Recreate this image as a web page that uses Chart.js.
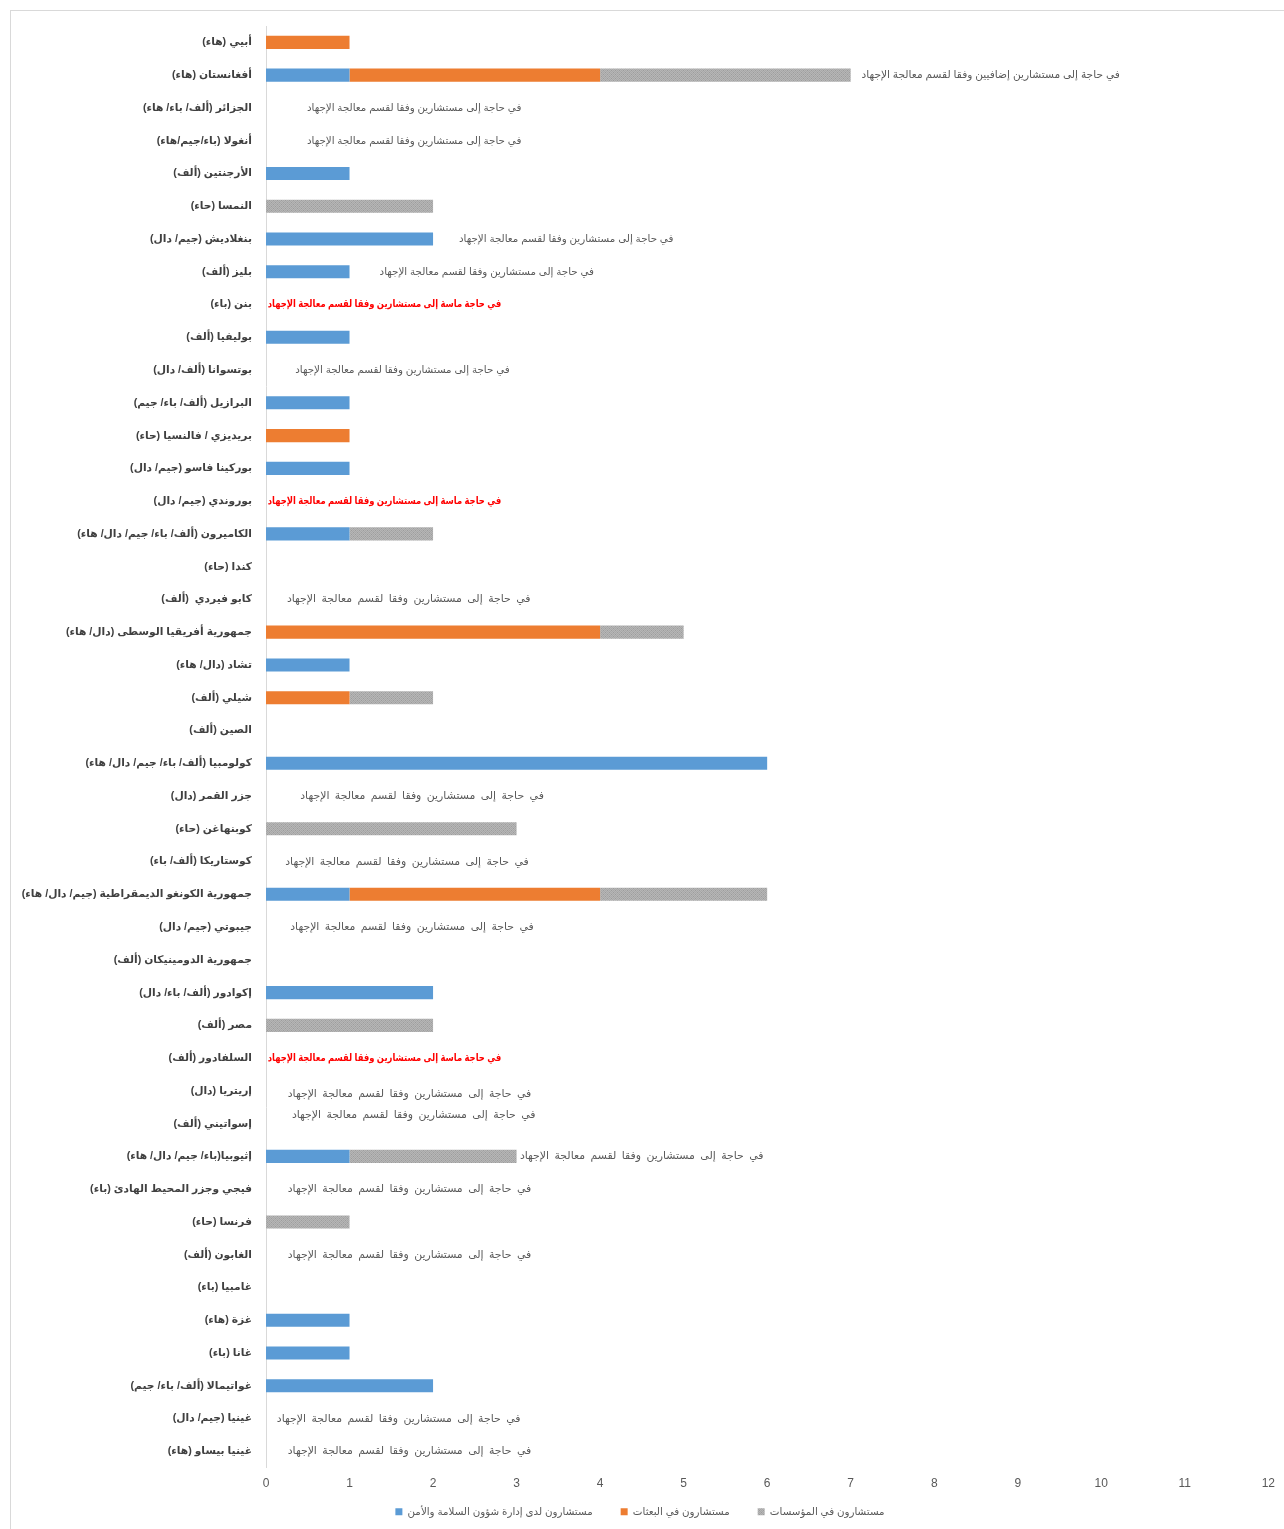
<!DOCTYPE html>
<html lang="ar">
<head>
<meta charset="utf-8">
<script src="https://cdn.jsdelivr.net/npm/chart.js@4/dist/chart.umd.min.js"></script>
<style>
  html, body { margin: 0; padding: 0; background: #fff; overflow: hidden; }
  #frame { position: absolute; left: 10px; top: 10px; width: 1300px; height: 1540px; border: 1px solid #d9d9d9; box-sizing: border-box; }
  #wrap { position: absolute; left: 0; top: 0; width: 1284px; height: 1529px; }
</style>
</head>
<body>
<div id="frame"></div>
<div id="wrap"><canvas id="c"></canvas></div>
<script>
// ---------- DATA ----------
const categories = [
  'أبيي (هاء)',
  'أفغانستان (هاء)',
  'الجزائر (ألف/ باء/ هاء)',
  'أنغولا (باء/جيم/هاء)',
  'الأرجنتين (ألف)',
  'النمسا (حاء)',
  'بنغلاديش (جيم/ دال)',
  'بليز (ألف)',
  'بنن (باء)',
  'بوليفيا (ألف)',
  'بوتسوانا (ألف/ دال)',
  'البرازيل (ألف/ باء/ جيم)',
  'بريديزي / فالنسيا (حاء)',
  'بوركينا فاسو (جيم/ دال)',
  'بوروندي (جيم/ دال)',
  'الكاميرون (ألف/ باء/ جيم/ دال/ هاء)',
  'كندا (حاء)',
  'كابو فيردي  (ألف)',
  'جمهورية أفريقيا الوسطى (دال/ هاء)',
  'تشاد (دال/ هاء)',
  'شيلي (ألف)',
  'الصين (ألف)',
  'كولومبيا (ألف/ باء/ جيم/ دال/ هاء)',
  'جزر القمر (دال)',
  'كوبنهاغن (حاء)',
  'كوستاريكا (ألف/ باء)',
  'جمهورية الكونغو الديمقراطية (جيم/ دال/ هاء)',
  'جيبوتي (جيم/ دال)',
  'جمهورية الدومينيكان (ألف)',
  'إكوادور (ألف/ باء/ دال)',
  'مصر (ألف)',
  'السلفادور (ألف)',
  'إريتريا (دال)',
  'إسواتيني (ألف)',
  'إثيوبيا(باء/ جيم/ دال/ هاء)',
  'فيجي وجزر المحيط الهادئ (باء)',
  'فرنسا (حاء)',
  'الغابون (ألف)',
  'غامبيا (باء)',
  'غزة (هاء)',
  'غانا (باء)',
  'غواتيمالا (ألف/ باء/ جيم)',
  'غينيا (جيم/ دال)',
  'غينيا بيساو (هاء)'
];

const seriesNames = [
  'مستشارون لدى إدارة شؤون السلامة والأمن',
  'مستشارون في البعثات',
  'مستشارون في المؤسسات'
];

const securityCounsellors = [0,1,0,0,1,0,2,1,0,1,0,1,0,1,0,1,0,0,0,1,0,0,6,0,0,0,1,0,0,2,0,0,0,0,1,0,0,0,0,1,1,2,0,0];
const missionCounsellors  = [1,3,0,0,0,0,0,0,0,0,0,0,1,0,0,0,0,0,4,0,1,0,0,0,0,0,3,0,0,0,0,0,0,0,0,0,0,0,0,0,0,0,0,0];
const agencyCounsellors   = [0,3,0,0,0,2,0,0,0,0,0,0,0,0,0,1,0,0,1,0,1,0,0,0,3,0,2,0,0,0,2,0,0,0,2,0,1,0,0,0,0,0,0,0];

const xTicks = [0,1,2,3,4,5,6,7,8,9,10,11,12];

// note kind per category: '' none, 'need', 'needWide', 'extra', 'urgent'
const noteKinds = ['', 'extra', 'need', 'need', '', '', 'need', 'need', 'urgent', '', 'need', '', '', '', 'urgent', '', '', 'needWide', '', '', '', '', '', 'needWide', '', 'needWide', '', 'needWide', '', '', '', 'urgent', 'needWide', 'needWide', 'needWide', 'needWide', '', 'needWide', '', '', '', '', 'needWide', 'needWide'];

const noteTexts = {
  need: 'في حاجة إلى مستشارين وفقا لقسم معالجة الإجهاد',
  needWide: 'في حاجة إلى مستشارين وفقا لقسم معالجة الإجهاد',
  extra: 'في حاجة إلى مستشارين إضافيين وفقا لقسم معالجة الإجهاد',
  urgent: 'في حاجة ماسة إلى مستشارين وفقا لقسم معالجة الإجهاد'
};

// ---------- LAYOUT of notes (anchor in axis units, left edge of text) ----------
const noteAnchor = {
  1: {x: 7.13}, 2: {x: 0.49}, 3: {x: 0.49}, 6: {x: 2.31}, 7: {x: 1.36},
  8: {x: 0.02}, 10: {x: 0.35}, 14: {x: 0.02}, 17: {x: 0.25}, 23: {x: 0.41},
  25: {x: 0.23}, 27: {x: 0.29}, 31: {x: 0.02}, 32: {x: 0.26, dy: 0.1},
  33: {x: 0.31, dy: -0.27}, 34: {x: 3.04}, 35: {x: 0.26}, 37: {x: 0.26},
  42: {x: 0.13}, 43: {x: 0.26}
};

const noteStyles = {
  need:     { font: '10.3px', color: '#595959', spacing: '0px', sx: 1 },
  needWide: { font: '10.9px', color: '#595959', spacing: '2.4px', sx: 1 },
  extra:    { font: '10.6px', color: '#595959', spacing: '0px', sx: 1 },
  urgent:   { font: 'bold 10.5px', color: '#ff0000', spacing: '0px', sx: 0.8 }
};

const FONT = "'Liberation Sans', 'DejaVu Sans', sans-serif";

function makeGrayPattern() {
  const t = document.createElement('canvas');
  t.width = 4; t.height = 4;
  const g = t.getContext('2d');
  g.fillStyle = '#a8a8a8';
  g.fillRect(0, 0, 4, 4);
  g.fillStyle = '#b6b6b6';
  for (let yy = 0; yy < 4; yy++) {
    for (let xx = 0; xx < 4; xx++) {
      if ((xx + yy) % 2 === 0) g.fillRect(xx, yy, 1, 1);
    }
  }
  g.fillStyle = '#9c9c9c';
  g.fillRect(1, 0, 1, 1); g.fillRect(3, 2, 1, 1);
  return g.createPattern(t, 'repeat');
}
const grayPattern = makeGrayPattern();

const notesPlugin = {
  id: 'notes',
  afterDatasetsDraw(chart) {
    const ctx = chart.ctx;
    const xs = chart.scales.x, ys = chart.scales.y;
    noteKinds.forEach((kind, i) => {
      if (!kind) return;
      const a = noteAnchor[i] || {x: 0.3};
      const st = noteStyles[kind];
      const px = xs.getPixelForValue(a.x);
      const py = ys.getPixelForValue(i + (a.dy || 0));
      ctx.save();
      ctx.font = st.font + ' ' + FONT;
      ctx.fillStyle = st.color;
      if ('wordSpacing' in ctx) ctx.wordSpacing = st.spacing;
      ctx.direction = 'rtl';
      ctx.textAlign = 'left';
      ctx.textBaseline = 'middle';
      ctx.translate(px, py);
      ctx.scale(st.sx, 1);
      ctx.fillText(noteTexts[kind], 0, 0);
      ctx.restore();
    });
  }
};

new Chart(document.getElementById('c'), {
  type: 'bar',
  data: {
    labels: categories,
    datasets: [
      { label: seriesNames[0], data: securityCounsellors, backgroundColor: '#5b9bd5' },
      { label: seriesNames[1], data: missionCounsellors, backgroundColor: '#ed7d31' },
      { label: seriesNames[2], data: agencyCounsellors, backgroundColor: grayPattern }
    ]
  },
  options: {
    indexAxis: 'y',
    responsive: true,
    maintainAspectRatio: false,
    animation: false,
    layout: { padding: { left: 10, right: 14, top: 26, bottom: 2 } },
    datasets: { bar: { categoryPercentage: 1, barPercentage: 0.4 } },
    plugins: {
      legend: {
        position: 'bottom',
        labels: {
          font: { size: 10.3, family: FONT },
          color: '#595959',
          boxWidth: 7, boxHeight: 7,
          padding: 28
        }
      },
      tooltip: { enabled: false }
    },
    scales: {
      x: {
        stacked: true,
        min: 0, max: 12,
        afterBuildTicks(scale) { scale.ticks = xTicks.map(v => ({ value: v })); },
        afterFit(scale) {
          scale.height = 11;
          // tick labels sit just below the compact axis box; do not clip them
          scale._computeLabelArea = function () { return undefined; };
        },
        grid: { display: false, drawTicks: false },
        border: { display: false },
        ticks: { color: '#595959', font: { size: 12, family: FONT }, padding: 9 }
      },
      y: {
        stacked: true,
        afterFit(scale) { scale.width = 256; },
        grid: { display: false, drawTicks: false },
        border: { display: true, color: '#d9d9d9' },
        ticks: { color: '#404040', font: { size: 10.7, weight: 'bold', family: FONT }, padding: 14, autoSkip: false }
      }
    }
  },
  plugins: [notesPlugin]
});
</script>
</body>
</html>
